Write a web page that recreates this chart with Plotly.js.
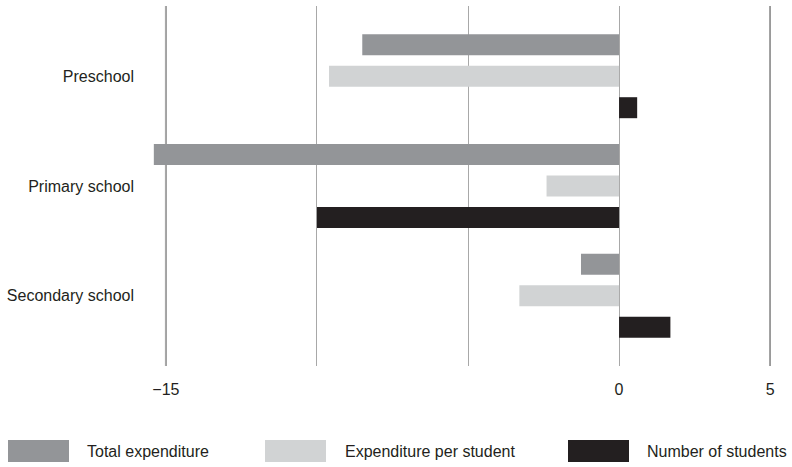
<!DOCTYPE html>
<html>
<head>
<meta charset="utf-8">
<script src="https://cdn.plot.ly/plotly-3.0.1.min.js"></script>
<style>html,body{margin:0;padding:0;background:#fff;}#chart{width:792px;height:467px;}</style>
</head>
<body>
<div id="chart"></div>
<script>
const categories = ['Preschool', 'Primary school', 'Secondary school'];
const seriesNames = ['Total expenditure', 'Expenditure per student', 'Number of students'];
const totalExpenditure = [-8.5, -15.4, -1.26];
const expenditurePerStudent = [-9.6, -2.4, -3.3];
const numberOfStudents = [0.6, -10.0, 1.7];
const tickVals = [-15, -10, -5, 0, 5];
const tickText = ['\u221215', '', '', '0', '5'];

const colors = ['#939598', '#d1d3d4', '#231f20'];
const values = [totalExpenditure, expenditurePerStudent, numberOfStudents];
const FONT = '"Liberation Sans Narrow", "Arial Narrow", "Liberation Sans", sans-serif';
const W = 792, H = 467, ML = 149, MR = 21, MT = 6, MB = 101;
const pw = W - ML - MR, ph = H - MT - MB;
const px = x => (x - ML) / pw;
const py = y => (H - MB - y) / ph;

const traces = values.map((v, i) => ({
  type: 'bar', orientation: 'h', name: seriesNames[i],
  y: categories, x: v,
  marker: {color: colors[i], line: {width: 0}},
  hoverinfo: 'x+y', showlegend: false
}));

// custom legend (large swatches)
const legendItems = [
  {sx: 8, tx: 85}, {sx: 265, tx: 343}, {sx: 568, tx: 645}
];
const shapes = [];
const annotations = [];
legendItems.forEach((it, i) => {
  shapes.push({type: 'rect', xref: 'paper', yref: 'paper',
    x0: px(it.sx), x1: px(it.sx + 61), y0: py(462), y1: py(440),
    fillcolor: colors[i], line: {width: 0}});
  annotations.push({xref: 'paper', yref: 'paper', x: px(it.tx), y: py(451),
    xanchor: 'left', yanchor: 'middle', showarrow: false, text: seriesNames[i],
    font: {family: FONT, size: 16, color: '#231f20'}});
});
// heavier outer gridlines
[-15, 5].forEach(v => shapes.push({type: 'line', xref: 'x', yref: 'paper',
  x0: v, x1: v, y0: 0, y1: 1, line: {color: '#9a9a9a', width: 2}, layer: 'below'}));

const layout = {
  width: W, height: H,
  margin: {l: ML, r: MR, t: MT, b: MB, pad: 0},
  paper_bgcolor: '#fff', plot_bgcolor: '#fff',
  barmode: 'group', bargap: 0.14, bargroupgap: 0.333,
  font: {family: FONT, size: 16, color: '#231f20'},
  xaxis: {range: [-15.56, 5.03], tickvals: tickVals, ticktext: tickText,
    showgrid: true, gridcolor: '#a8a8a8', gridwidth: 1,
    zeroline: true, zerolinecolor: '#a8a8a8', zerolinewidth: 1,
    showline: false, ticks: '', ticklabelstandoff: 12,
    tickfont: {family: FONT, size: 16, color: '#231f20'}, fixedrange: true},
  yaxis: {type: 'category', range: [2.64, -0.64], showgrid: false, zeroline: false,
    showline: false, ticks: '', ticklabelstandoff: 14,
    tickfont: {family: FONT, size: 16, color: '#231f20'}, fixedrange: true},
  shapes: shapes, annotations: annotations, showlegend: false
};
Plotly.newPlot('chart', traces, layout, {displayModeBar: false, staticPlot: true});
</script>
</body>
</html>
